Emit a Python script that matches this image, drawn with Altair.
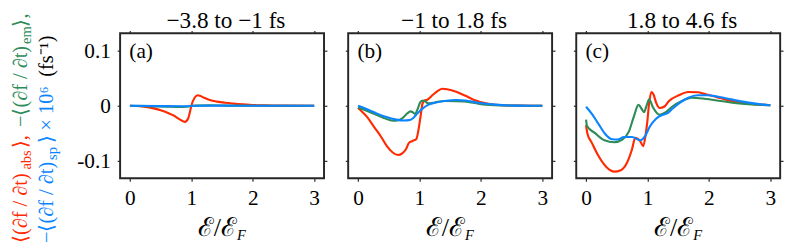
import altair as alt
import pandas as pd

# ---------------- data ----------------
panel_titles = ["\u22123.8 to \u22121 fs", "\u22121 to 1.8 fs", "1.8 to 4.6 fs"]
panel_labels = ["(a)", "(b)", "(c)"]
x_ticks = [0, 1, 2, 3]
y_ticks = [-0.1, 0, 0.1]

# panel (a)
a_red_x = [0, 0.2, 0.37, 0.5, 0.63, 0.72, 0.79, 0.85, 0.895, 0.948, 0.975, 1.0, 1.053, 1.105, 1.15, 1.21, 1.3, 1.42, 1.55, 1.685, 1.95, 2.2, 2.5, 3.0]
a_red_y = [0, -0.0012, -0.0042, -0.008, -0.0134, -0.018, -0.0233, -0.027, -0.029, -0.023, -0.012, 0.0, 0.0145, 0.019, 0.0175, 0.0145, 0.0105, 0.0075, 0.0055, 0.004, 0.0017, 0.0008, 0.0003, 0.0]
a_green_x = [0, 0.3, 0.6, 0.8, 0.95, 1.05, 1.3, 1.6, 2.0, 3.0]
a_green_y = [0, -0.0006, -0.0016, -0.0022, -0.0012, 0.0004, 0.0008, 0.0003, 0.0, 0.0]
a_blue_x = [0, 0.5, 0.9, 1.1, 1.5, 2.0, 3.0]
a_blue_y = [0, -0.0005, -0.0008, 0.0, 0.0003, 0.0, 0.0]

# panel (b)
b_red_x = [0, 0.05, 0.15, 0.26, 0.37, 0.47, 0.56, 0.65, 0.72, 0.78, 0.83, 0.88, 0.95, 0.99, 1.02, 1.05, 1.08, 1.13, 1.22, 1.3, 1.37, 1.45, 1.61, 1.75, 1.87, 2.08, 2.34, 2.6, 3.0]
b_red_y = [-0.004, -0.009, -0.0204, -0.038, -0.055, -0.073, -0.084, -0.089, -0.086, -0.0785, -0.067, -0.064, -0.060, -0.040, -0.018, 0.004, 0.009, 0.011, 0.020, 0.027, 0.0307, 0.030, 0.025, 0.018, 0.0115, 0.0045, 0.001, 0.0002, 0.0]
b_green_x = [0, 0.1, 0.26, 0.42, 0.57, 0.66, 0.73, 0.8, 0.855, 0.9, 0.93, 0.97, 1.01, 1.05, 1.09, 1.13, 1.17, 1.25, 1.41, 1.6, 1.72, 1.9, 2.08, 2.4, 3.0]
b_green_y = [-0.003, -0.007, -0.0146, -0.022, -0.027, -0.026, -0.0216, -0.014, -0.010, -0.0125, -0.0146, -0.006, 0.0058, 0.0095, 0.0087, 0.005, 0.0045, 0.006, 0.0087, 0.0085, 0.008, 0.005, 0.002, 0.0005, 0.0]
b_blue_x = [0, 0.1, 0.26, 0.45, 0.62, 0.75, 0.83, 0.9, 0.96, 1.05, 1.14, 1.25, 1.41, 1.61, 1.75, 1.93, 2.24, 2.6, 3.0]
b_blue_y = [0.0, -0.004, -0.0117, -0.020, -0.025, -0.0265, -0.026, -0.022, -0.0146, -0.005, 0.0017, 0.0055, 0.0087, 0.0105, 0.0095, 0.006, 0.002, 0.0003, 0.0]

# panel (c)
c_red_x = [0, 0.02, 0.094, 0.198, 0.33, 0.46, 0.565, 0.67, 0.748, 0.80, 0.88, 0.93, 0.973, 0.994, 1.025, 1.062, 1.1, 1.14, 1.2, 1.27, 1.35, 1.51, 1.664, 1.82, 1.926, 2.13, 2.29, 2.66, 3.0]
c_red_y = [-0.035, -0.0495, -0.067, -0.090, -0.1106, -0.119, -0.1164, -0.102, -0.0785, -0.058, -0.064, -0.0728, -0.0495, -0.032, 0.0029, 0.025, 0.020, 0.0058, -0.0041, -0.0018, 0.0087, 0.019, 0.025, 0.0244, 0.0215, 0.0157, 0.0105, 0.004, 0.001]
c_green_x = [0, 0.015, 0.146, 0.30, 0.46, 0.59, 0.696, 0.775, 0.853, 0.906, 0.943, 0.984, 1.026, 1.09, 1.193, 1.298, 1.40, 1.56, 1.72, 1.926, 2.19, 2.45, 3.0]
c_green_y = [-0.025, -0.0367, -0.0495, -0.0623, -0.0658, -0.061, -0.0466, -0.0204, 0.0017, -0.0058, -0.0117, 0.0, 0.0116, -0.003, -0.0163, -0.0117, -0.0017, 0.0087, 0.0145, 0.0128, 0.0087, 0.0046, 0.001]
c_blue_x = [0, 0.094, 0.198, 0.30, 0.408, 0.513, 0.617, 0.748, 0.88, 0.958, 1.036, 1.14, 1.22, 1.325, 1.40, 1.53, 1.664, 1.82, 1.98, 2.13, 2.29, 2.55, 2.76, 3.0]
c_blue_y = [-0.0018, -0.0146, -0.032, -0.0495, -0.060, -0.061, -0.0565, -0.0565, -0.0623, -0.0553, -0.0379, -0.0233, -0.0175, -0.0134, -0.0058, 0.0058, 0.0145, 0.019, 0.019, 0.0168, 0.0133, 0.0075, 0.004, 0.001]

panels = [
    ((a_red_x, a_red_y), (a_green_x, a_green_y), (a_blue_x, a_blue_y)),
    ((b_red_x, b_red_y), (b_green_x, b_green_y), (b_blue_x, b_blue_y)),
    ((c_red_x, c_red_y), (c_green_x, c_green_y), (c_blue_x, c_blue_y)),
]

# ---------------- style ----------------
RED = "#FF2A00"
GREEN = "#2E8B57"
BLUE = "#0A84FF"
INK = "#262626"
FONT = "Liberation Serif"
W, H = 211, 150

xs = alt.Scale(domain=[-0.16, 3.16], nice=False, zero=False)
ys = alt.Scale(domain=[-0.131, 0.131], nice=False, zero=False)

ylab_expr = "datum.value == 0 ? '0' : (datum.value < 0 ? '-' : '') + format(abs(datum.value), '.1f')"


def line_layer(xv, yv, color, with_axes, show_ylabels):
    df = pd.DataFrame({"x": xv, "y": yv})
    if with_axes:
        xa = alt.Axis(orient="bottom", values=x_ticks, format="d", title=None)
        ya = alt.Axis(orient="left", values=y_ticks, labels=show_ylabels,
                      labelExpr=ylab_expr, title=None)
    else:
        xa = None
        ya = None
    return alt.Chart(df).mark_line(color=color, strokeWidth=2.2, interpolate="monotone").encode(
        x=alt.X("x:Q", scale=xs, axis=xa),
        y=alt.Y("y:Q", scale=ys, axis=ya),
    )


def text_value(t, x, y, size, color="black", align="left", angle=0, style="normal"):
    return alt.Chart(pd.DataFrame({"t": [t]})).mark_text(
        align=align, baseline="alphabetic", font=FONT, fontSize=size,
        color=color, angle=angle, fontStyle=style,
    ).encode(x=alt.value(x), y=alt.value(y), text="t:N")


# ---------------- y-axis title (multi-coloured, rotated) ----------------
ytitle_segments = [
    # text, colour, size, baseline x, start y (text runs upward)
    ("\u27e8(\u2202f / \u2202t)", RED, 21, 19, 217),
    ("abs", RED, 15, 23, 141),
    ("\u27e9,", RED, 21, 19, 119),
    ("\u2212\u27e8(\u2202f / \u2202t)", GREEN, 21, 19, 97),
    ("em", GREEN, 15, 23, 11),
    ("\u27e9,", GREEN, 21, 19, -7),
    ("\u2212\u27e8(\u2202f / \u2202t)", BLUE, 21, 46, 217),
    ("sp", BLUE, 15, 50, 131),
    ("\u27e9 \u00d7 10\u2076", BLUE, 21, 46, 114),
    ("(fs\u207b\u00b9)", "black", 21, 46, 45),
]
ytitle = alt.layer(
    *[text_value(t, x, y, sz, color=c, angle=270) for t, c, sz, x, y in ytitle_segments]
).properties(width=51, height=H, view=alt.ViewBackground(stroke="transparent"))

charts = [ytitle]
for i, (red, green, blue) in enumerate(panels):
    layers = [
        line_layer(red[0], red[1], RED, True, i == 0),
        line_layer(green[0], green[1], GREEN, False, False),
        line_layer(blue[0], blue[1], BLUE, False, False),
    ]
    lab = alt.Chart(pd.DataFrame({"x": [-0.01], "y": [0.0856], "t": [panel_labels[i]]})).mark_text(
        align="left", baseline="alphabetic", font=FONT, fontSize=22, color="black"
    ).encode(
        x=alt.X("x:Q", scale=xs, axis=alt.Axis(orient="top", values=x_ticks, labels=False, title=None)),
        y=alt.Y("y:Q", scale=ys, axis=alt.Axis(orient="right", values=y_ticks, labels=False, title=None)),
        text="t:N",
    )
    layers.append(lab)
    # panel title
    layers.append(text_value(panel_titles[i], W / 2 + 4, -5, 24, align="center"))
    # x-axis title  E/E_F
    layers.append(text_value("\u2130/\u2130", 121, 210, 27, align="right"))
    layers.append(text_value("F", 121, 214, 15, style="italic"))
    ch = alt.layer(*layers).resolve_axis(x="independent", y="independent").properties(
        width=W, height=H,
    )
    charts.append(ch)

chart = alt.hconcat(*charts, spacing=15).configure(
    padding={"left": 0, "top": -3, "right": 0, "bottom": 0},
).configure_view(
    stroke=INK, strokeWidth=2,
).configure_axis(
    domain=False, grid=False, ticks=True, tickSize=3, tickWidth=1.2, tickColor=INK,
    labelFont=FONT, labelFontSize=22, labelColor="black", labelPadding=7,
)

chart.save("out.html", embed_options={"renderer": "svg", "actions": False})
